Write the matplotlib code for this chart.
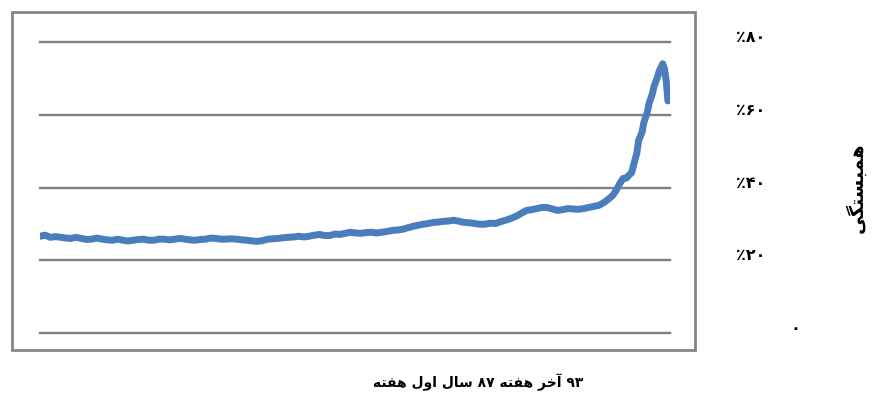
import matplotlib.pyplot as plt
from matplotlib.patches import Rectangle
from matplotlib.transforms import blended_transform_factory

# weekly correlation (%), first week of 87 to last week of 93
flat_weeks = list(range(0, 331, 3))
flat_corr = [26.6, 26.9, 26.3, 26.5, 26.3, 26.1, 26.0, 26.3, 26.0, 25.7,
             25.8, 26.1, 25.8, 25.6, 25.5, 25.8, 25.5, 25.3, 25.5, 25.7,
             25.8, 25.5, 25.5, 25.8, 25.8, 25.6, 25.8, 26.0, 25.8, 25.6,
             25.5, 25.7, 25.8, 26.1, 26.0, 25.8, 25.8, 25.9, 25.8, 25.6,
             25.5, 25.3, 25.2, 25.4, 25.8, 25.9, 26.0, 26.2, 26.3, 26.4,
             26.6, 26.4, 26.6, 26.9, 27.1, 26.8, 26.8, 27.2, 27.1, 27.4,
             27.7, 27.5, 27.4, 27.6, 27.7, 27.5, 27.7, 27.9, 28.2, 28.3,
             28.5, 28.9, 29.3, 29.6, 29.9, 30.1, 30.4, 30.5, 30.7, 30.8,
             31.0, 30.7, 30.4, 30.3, 30.1, 29.9, 29.9, 30.2, 30.1, 30.6,
             31.0, 31.5, 32.1, 32.9, 33.7, 33.9, 34.2, 34.5, 34.5, 34.1,
             33.7, 33.9, 34.2, 34.1, 34.0, 34.2, 34.5, 34.8, 35.1, 35.9,
             37.0]
spike_weeks = [332, 334, 336, 338, 340, 341, 343, 344, 346, 347, 349, 350,
               352, 353, 355, 356, 358, 359, 360, 361, 362, 363, 364]
spike_corr = [37.8, 39.2, 41.0, 42.5, 42.6, 43.2, 44.1, 46.0, 49.5, 52.9,
              55.2, 57.8, 60.6, 63.0, 65.8, 67.9, 70.4, 72.1, 73.0, 74.0,
              72.6, 69.3, 63.8]

y_ticks = [0, 20, 40, 60, 80]
y_labels = ['\u06f0', '\u066a\u06f2\u06f0', '\u066a\u06f4\u06f0',
            '\u066a\u06f6\u06f0', '\u066a\u06f8\u06f0']
y_label_x = [795, 751, 751, 751, 751]

# no shaping/bidi in matplotlib: use presentation forms in visual order
x_title = ('\ufeea\ufe98\ufed4\ufeeb \ufedd\ufeed\ufe8d \ufedd\ufe8e\ufeb3 '
           '\u06f8\u06f7 \ufeea\ufe98\ufed4\ufeeb \ufeae\ufea7\ufe81 \u06f9\u06f3')
y_title = '\ufbfd\ufb95\ufe98\ufeb4\ufe92\ufee4\ufeeb'

W, H = 872, 398
fig = plt.figure(figsize=(W / 100, H / 100), dpi=100)
ax = fig.add_axes([40 / W, 1 - 333 / H, 630 / W, 291 / H])

ax.plot(flat_weeks + spike_weeks, flat_corr + spike_corr, color='#4a7dbb',
        linewidth=5, solid_capstyle='round', solid_joinstyle='round',
        zorder=3)

ax.set_xlim(0, 365.2)
ax.set_ylim(0, 80)
ax.set_yticks(y_ticks)
ax.set_xticks([])
ax.tick_params(axis='y', length=0, labelleft=False)
ax.grid(True, axis='y', color='#808080', linewidth=1.7)
for gl in ax.get_ygridlines():
    gl.set_clip_on(False)
for s in ax.spines.values():
    s.set_visible(False)

# chart area border
fig.patches.append(Rectangle((12 / W, 1 - 350 / H), 683 / W, 338 / H,
                             transform=fig.transFigure, fill=False,
                             edgecolor='#858585', linewidth=2))

trans = blended_transform_factory(fig.transFigure, ax.transData)
for v, lab, px in zip(y_ticks, y_labels, y_label_x):
    ax.text(px / W, v + 1.2, lab, transform=trans, ha='center', va='center',
            fontsize=11.5, fontweight='bold', family='DejaVu Sans',
            clip_on=False)

fig.text(478 / W, 1 - 382 / H, x_title, ha='center', va='center',
         fontsize=10, fontweight='bold', family='DejaVu Sans')
fig.text(856 / W, 1 - 188 / H, y_title, ha='center', va='center',
         rotation=90, fontsize=13.5, fontweight='bold', family='DejaVu Sans')

fig.savefig('out.png', dpi=100)
